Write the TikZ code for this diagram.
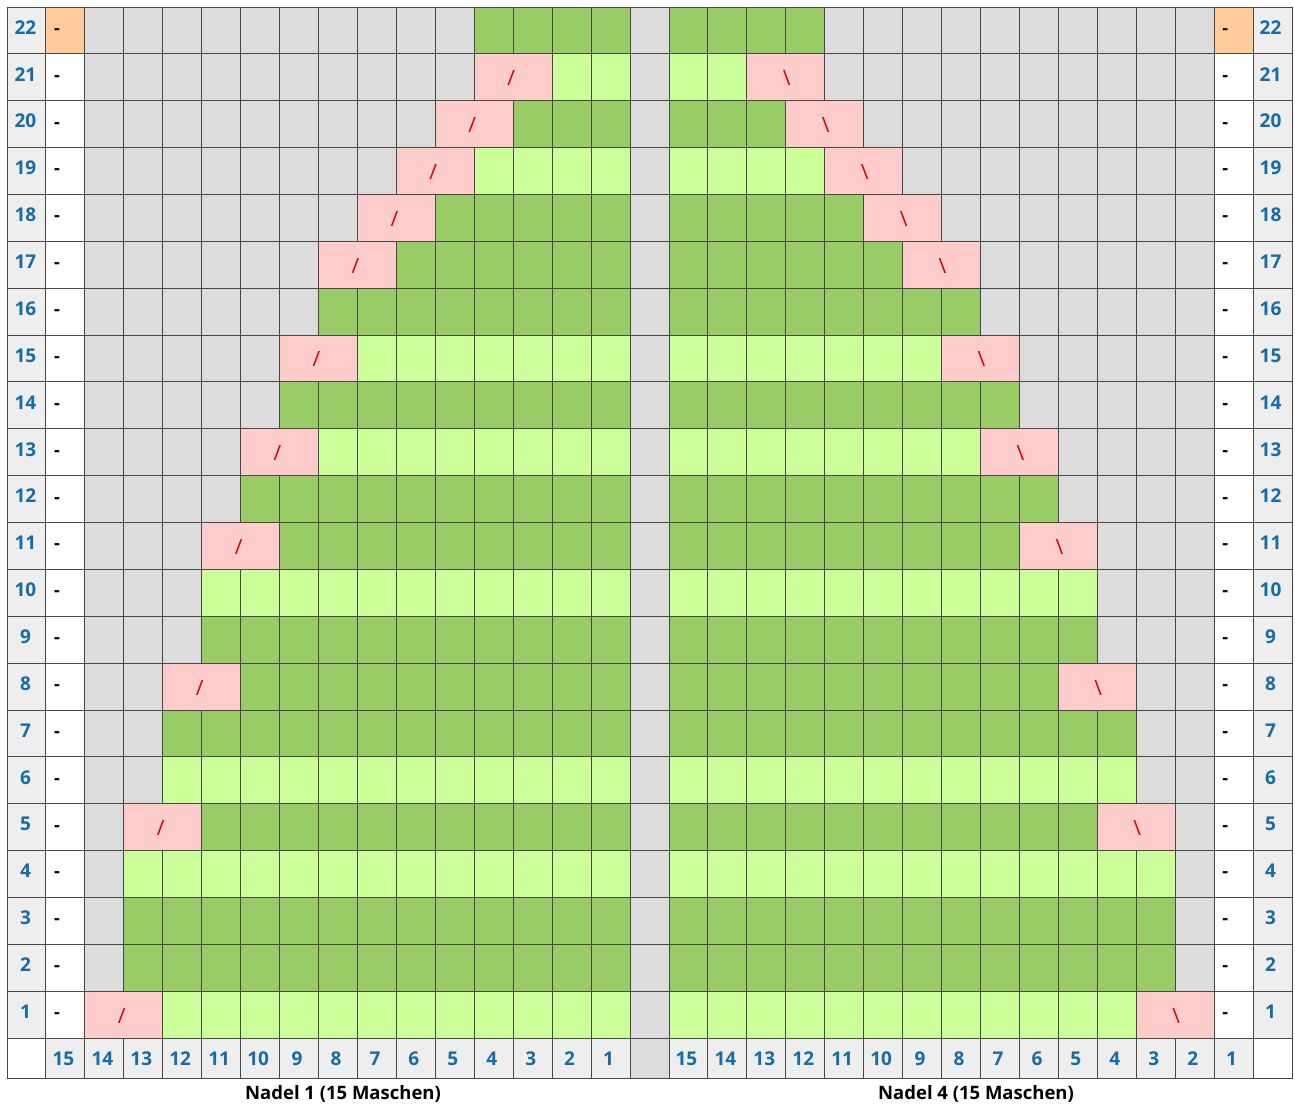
\documentclass[tikz,border=0pt]{standalone}
\usepackage{fontspec}
\setmainfont{Open Sans}
\definecolor{lbl}{HTML}{EEEEEE}
\definecolor{gr}{HTML}{DCDCDC}
\definecolor{dg}{HTML}{99CC66}
\definecolor{lg}{HTML}{CCFF99}
\definecolor{pk}{HTML}{FFCCCC}
\definecolor{orng}{HTML}{FFCC99}
\definecolor{numblue}{RGB}{22,108,166}
\definecolor{mred}{RGB}{220,0,0}
\def\cw{38.94}
\def\rh{46.864}
\tikzset{
  cellborder/.style={draw=black!72,line width=0.9pt},
  numtext/.style={font=\fontsize{19}{19}\selectfont\bfseries,text=numblue,inner sep=0pt},
  dashtext/.style={font=\fontsize{18}{18}\selectfont\bfseries,inner sep=0pt,anchor=west},
  slashtext/.style={font=\fontsize{21}{21}\selectfont,text=mred,inner sep=0pt},
  captext/.style={font=\fontsize{18.5}{18.5}\selectfont\bfseries,inner sep=0pt}
}
% col, row, width (cols), colour
\newcommand\cellfill[4]{%
  \pgfmathsetmacro\xa{7+(#1)*\cw}\pgfmathsetmacro\xb{7+(#1+#3)*\cw}%
  \pgfmathsetmacro\ya{7+(22-#2)*\rh}\pgfmathsetmacro\yb{\ya+\rh}%
  \draw[cellborder,fill=#4] (\xa,\ya) rectangle (\xb,\yb);}
% label-row cell: col, colour
\newcommand\botcell[2]{%
  \pgfmathsetmacro\xa{7+(#1)*\cw}\pgfmathsetmacro\xb{7+(#1+1)*\cw}%
  \draw[cellborder,fill=#2] (\xa,1038) rectangle (\xb,1078);}
\begin{document}
\begin{tikzpicture}[x=1pt,y=-1pt]
\useasboundingbox (0,0) rectangle (1295,1106);
\foreach \r/\L/\p/\cc in {1/2/1/lg,2/3/0/dg,3/3/0/dg,4/3/0/lg,5/3/1/dg,6/4/0/lg,7/4/0/dg,8/4/1/dg,9/5/0/dg,10/5/0/lg,11/5/1/dg,12/6/0/dg,13/6/1/lg,14/7/0/dg,15/7/1/lg,16/8/0/dg,17/8/1/dg,18/9/1/dg,19/10/1/lg,20/11/1/dg,21/12/1/lg,22/12/0/dg}{
  \pgfmathsetmacro\yc{7+(22-\r+0.5)*\rh}
  % row labels
  \cellfill{0}{\r}{1}{lbl}
  \node[numtext] (rl-\r) at ({7+0.5*\cw-1},{\yc-3}) {\r};
  \cellfill{32}{\r}{1}{lbl}
  \node[numtext] (rr-\r) at ({7+32.5*\cw-2},{\yc-3}) {\r};
  % edge columns
  \ifnum\r=22 \def\ec{orng}\else\def\ec{white}\fi
  \cellfill{1}{\r}{1}{\ec}
  \node[dashtext] (dl-\r) at ({7+1*\cw+8},{\yc+1}) {-};
  \cellfill{31}{\r}{1}{\ec}
  \node[dashtext] (dr-\r) at ({7+31*\cw+8},{\yc+1}) {-};
  % gap column
  \cellfill{16}{\r}{1}{gr}
  % stitches
  \foreach \c in {2,...,15}{
    \ifnum\c<\L \def\fc{gr}\else\def\fc{\cc}\fi
    \cellfill{\c}{\r}{1}{\fc}
    \pgfmathtruncatemacro\m{32-\c}
    \cellfill{\m}{\r}{1}{\fc}
  }
  \ifnum\p=1
    \cellfill{\L}{\r}{2}{pk}
    \node[slashtext] (kl-\r) at ({7+(\L+1)*\cw-2},{\yc+1}) {/};
    \pgfmathtruncatemacro\mr{31-\L}
    \cellfill{\mr}{\r}{2}{pk}
    \node[slashtext] (kr-\r) at ({7+(\mr+1)*\cw+1},{\yc+1}) {\textbackslash};
  \fi
}
% bottom label row
\botcell{0}{white}
\botcell{32}{white}
\botcell{16}{gr}
\foreach \c in {1,...,15}{
  \botcell{\c}{lbl}
  \pgfmathtruncatemacro\n{16-\c}
  \node[numtext] (bl-\c) at ({7+(\c+0.5)*\cw-2},1058.5) {\n};
  \pgfmathtruncatemacro\k{\c+16}
  \botcell{\k}{lbl}
  \pgfmathtruncatemacro\nn{32-\k}
  \node[numtext] (br-\c) at ({7+(\k+0.5)*\cw-2},1058.5) {\nn};
}
\node[captext] (cap1) at (343,1094) {Nadel 1 (15 Maschen)};
\node[captext] (cap4) at (976,1094) {Nadel 4 (15 Maschen)};
\end{tikzpicture}
\end{document}
